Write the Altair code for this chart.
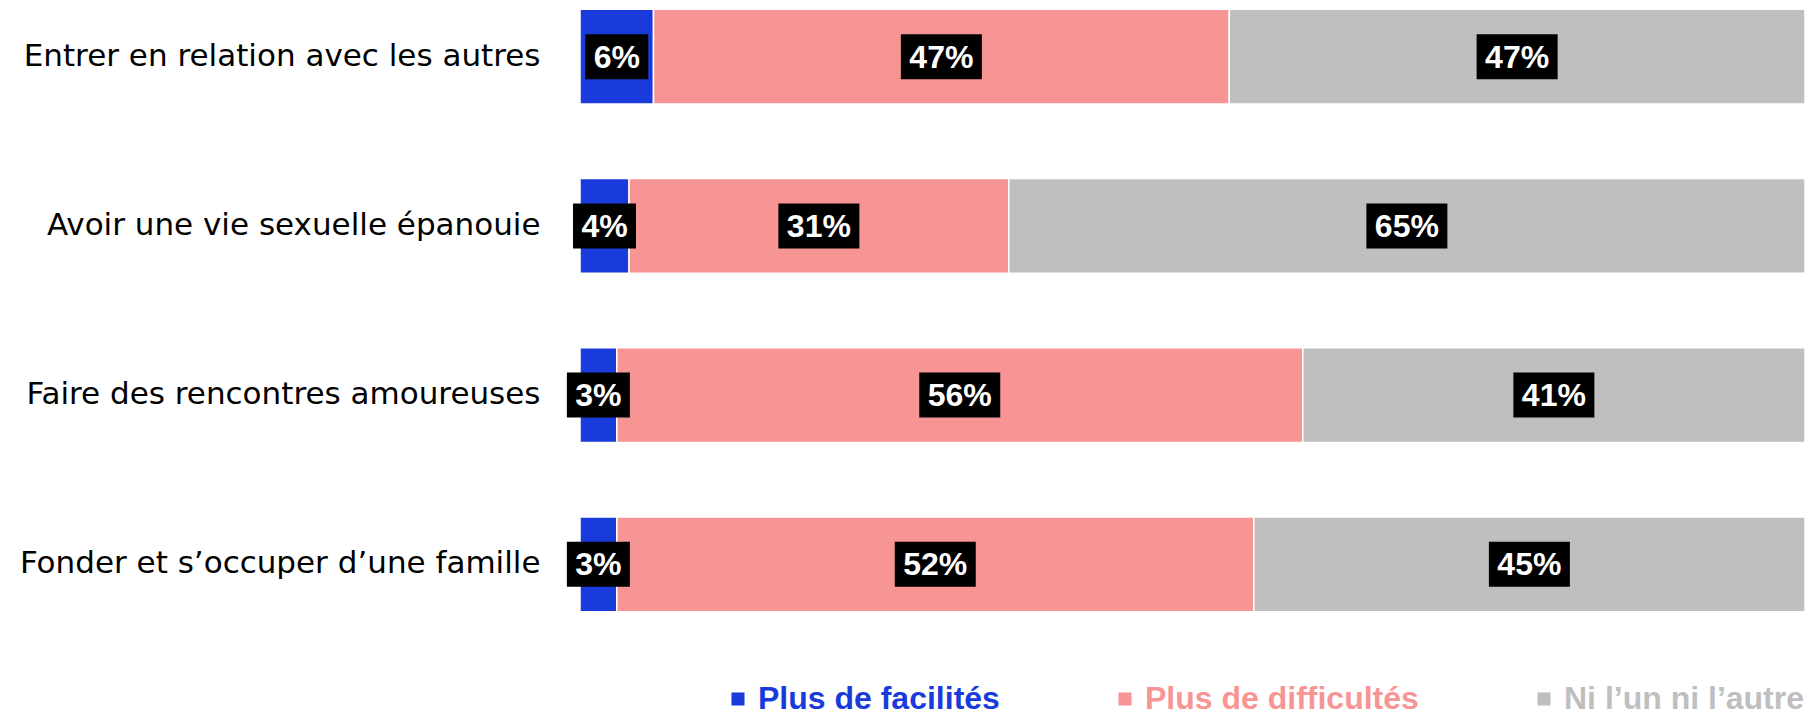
import altair as alt
import pandas as pd

categories = [
    "Entrer en relation avec les autres",
    "Avoir une vie sexuelle épanouie",
    "Faire des rencontres amoureuses",
    "Fonder et s’occuper d’une famille",
]
series = ["Plus de facilités", "Plus de difficultés", "Ni l’un ni l’autre"]
facilites = [6, 4, 3, 3]
difficultes = [47, 31, 56, 52]
ni_lun = [47, 65, 41, 45]
colors = ["#1a3bdb", "#f79595", "#bfbfbf"]

rows = []
for i, cat in enumerate(categories):
    start = 0
    for s, vals in zip(series, [facilites, difficultes, ni_lun]):
        v = vals[i]
        rows.append({
            "cat": cat, "series": s, "value": v,
            "start": start, "end": start + v, "mid": start + v / 2,
            "label": f"{v}%",
        })
        start += v
df = pd.DataFrame(rows)

yenc = alt.Y("cat:N", sort=categories, title=None,
             scale=alt.Scale(paddingInner=0.44, paddingOuter=0.055),
             axis=alt.Axis(labelFont="DejaVu Sans", labelFontSize=31, labelColor="#000000",
                           labelPadding=40, domain=False, ticks=False, labelLimit=0))
xscale = alt.Scale(domain=[0, 100], nice=False, zero=True)

label_expr = ("datum.value == 'Plus de facilités' ? '#1a3bdb' : "
              "datum.value == 'Plus de difficultés' ? '#f79595' : '#bfbfbf'")

bars = alt.Chart(df).mark_bar(stroke="white", strokeWidth=1.5).encode(
    x=alt.X("start:Q", scale=xscale, axis=None),
    x2="end:Q",
    y=yenc,
    color=alt.Color("series:N", sort=series,
                    scale=alt.Scale(domain=series, range=colors),
                    legend=alt.Legend(orient="none", legendX=142, legendY=683,
                                      direction="horizontal", title=None,
                                      symbolType="square", symbolSize=170,
                                      symbolStrokeWidth=0, symbolOpacity=1,
                                      labelFont="Liberation Sans", labelFontSize=32,
                                      labelFontWeight="bold", labelLimit=0,
                                      labelOffset=4, columnPadding=109, padding=0,
                                      labelColor=alt.ExprRef(expr=label_expr))),
)

box_small = alt.Chart(df).transform_filter("length(datum.label) == 2").mark_tick(
    color="black", thickness=63, size=45, opacity=1
).encode(x=alt.X("mid:Q", scale=xscale, axis=None), y=alt.Y("cat:N", sort=categories))

box_big = alt.Chart(df).transform_filter("length(datum.label) == 3").mark_tick(
    color="black", thickness=81, size=45, opacity=1
).encode(x=alt.X("mid:Q", scale=xscale, axis=None), y=alt.Y("cat:N", sort=categories))

texts = alt.Chart(df).mark_text(
    font="Liberation Sans", fontSize=32, fontWeight="bold", color="white",
    baseline="middle", align="center", dy=1
).encode(x=alt.X("mid:Q", scale=xscale, axis=None), y=alt.Y("cat:N", sort=categories),
         text="label:N")

chart = alt.layer(bars, box_small, box_big, texts).properties(
    width=1225, height=621,
    background="white",
    autosize=alt.AutoSizeParams(type="none"),
    padding={"left": 580, "top": 0, "right": 3, "bottom": 96},
).configure_view(strokeWidth=0, stroke=None)

chart.save("out.html", embed_options={"renderer": "svg", "actions": False})
